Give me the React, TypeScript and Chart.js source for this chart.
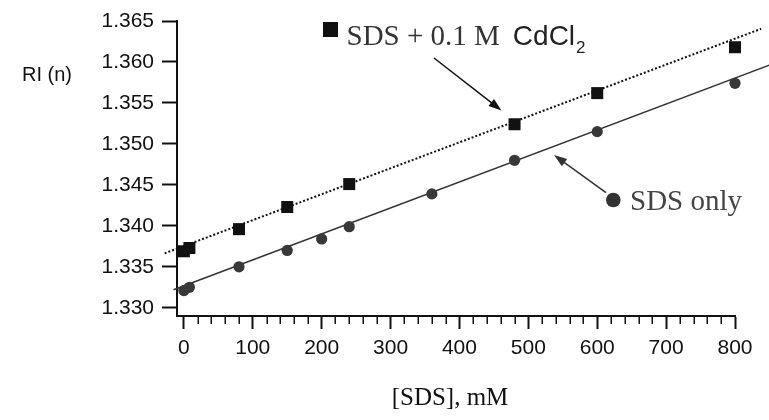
import React, { useEffect, useRef } from 'react';
import { Chart, registerables } from 'chart.js';

Chart.register(...registerables);

// SDS only (circles)
const sdsConc = [0, 8, 80, 150, 200, 240, 360, 480, 600, 800];
const sdsRI = [1.3321, 1.3325, 1.3350, 1.3370, 1.3384, 1.3399, 1.3439, 1.3480, 1.3515, 1.3574];

// SDS + 0.1 M CdCl2 (squares)
const cdConc = [0, 8, 80, 150, 240, 480, 600, 800];
const cdRI = [1.3369, 1.3373, 1.3396, 1.3423, 1.3451, 1.3524, 1.3562, 1.3618];

// linear fit lines (end points)
const sdsFitX = [-15, 850];
const sdsFitY = [1.33221, 1.35962];
const cdFitX = [-28, 838];
const cdFitY = [1.33665, 1.36405];

const xTickValues = [0, 100, 200, 300, 400, 500, 600, 700, 800];
const xMinorValues = [20, 40, 60, 80, 120, 140, 160, 180, 220, 240, 260, 280, 320, 340, 360, 380, 420, 440, 460, 480, 520, 540, 560, 580, 620, 640, 660, 680, 720, 740, 760, 780];
const yTickValues = [1.330, 1.335, 1.340, 1.345, 1.350, 1.355, 1.360, 1.365];

const SANS = "'Liberation Sans', Arial, sans-serif";
const SERIF = "'Liberation Serif', 'Times New Roman', serif";

function drawArrow(ctx: CanvasRenderingContext2D, x1: number, y1: number, x2: number, y2: number, color: string) {
  const ang = Math.atan2(y2 - y1, x2 - x1);
  const len = 13;
  const hw = 4.5;
  ctx.save();
  ctx.strokeStyle = color;
  ctx.fillStyle = color;
  ctx.lineWidth = 1.5;
  ctx.beginPath();
  ctx.moveTo(x1, y1);
  ctx.lineTo(x2 - Math.cos(ang) * len * 0.8, y2 - Math.sin(ang) * len * 0.8);
  ctx.stroke();
  ctx.beginPath();
  ctx.moveTo(x2, y2);
  ctx.lineTo(x2 - Math.cos(ang) * len - Math.sin(ang) * hw, y2 - Math.sin(ang) * len + Math.cos(ang) * hw);
  ctx.lineTo(x2 - Math.cos(ang) * len + Math.sin(ang) * hw, y2 - Math.sin(ang) * len - Math.cos(ang) * hw);
  ctx.closePath();
  ctx.fill();
  ctx.restore();
}

export default function App() {
  const ref = useRef<HTMLCanvasElement>(null);

  useEffect(() => {
    const canvas = ref.current;
    if (!canvas) return;

    const annot = {
      id: 'annot',
      afterDraw(chart: any) {
        const ctx: CanvasRenderingContext2D = chart.ctx;
        const xs = chart.scales.x;
        ctx.save();
        // minor x ticks
        ctx.strokeStyle = '#111';
        ctx.lineWidth = 1.5;
        for (const v of xMinorValues) {
          const px = Math.round(xs.getPixelForValue(v)) + 0.25;
          ctx.beginPath();
          ctx.moveTo(px, xs.top + 1);
          ctx.lineTo(px, xs.top + 8);
          ctx.stroke();
        }

        // y axis title
        ctx.fillStyle = '#111';
        ctx.font = `20px ${SANS}`;
        ctx.textAlign = 'left';
        ctx.textBaseline = 'middle';
        ctx.fillText('RI (n)', 22, 75);

        // x axis title
        ctx.font = `25px ${SERIF}`;
        ctx.textAlign = 'center';
        ctx.textBaseline = 'alphabetic';
        ctx.fillText('[SDS], mM', 450, 405);

        // label: SDS + 0.1 M CdCl2
        ctx.fillStyle = '#111';
        ctx.fillRect(323, 22, 15, 15);
        ctx.textAlign = 'left';
        ctx.fillStyle = '#333';
        ctx.font = `29px ${SERIF}`;
        const t1 = 'SDS + 0.1 M';
        ctx.fillText(t1, 346.5, 45);
        const w1 = ctx.measureText(t1).width;
        ctx.fillStyle = '#222';
        ctx.font = `28px ${SANS}`;
        const cx = 346.5 + w1 + 13;
        ctx.fillText('CdCl', cx, 45);
        const w2 = ctx.measureText('CdCl').width;
        ctx.font = `17px ${SANS}`;
        ctx.fillText('2', cx + w2 + 1, 53);

        drawArrow(ctx, 434, 58, 501.5, 110.5, '#111');

        // label: SDS only
        ctx.fillStyle = '#333';
        ctx.beginPath();
        ctx.arc(613.3, 200, 7.3, 0, Math.PI * 2);
        ctx.fill();
        ctx.fillStyle = '#444';
        ctx.font = `29px ${SERIF}`;
        ctx.fillText('SDS only', 630, 210);

        drawArrow(ctx, 606, 192.7, 554, 155, '#333');
        ctx.restore();
      },
    };

    const chart = new Chart(canvas, {
      type: 'scatter',
      data: {
        datasets: [
          {
            label: 'SDS + 0.1 M CdCl2',
            data: cdConc.map((x, i) => ({ x, y: cdRI[i] })),
            pointStyle: 'rect',
            pointRadius: 8.5,
            pointBackgroundColor: '#111',
            pointBorderColor: '#111',
            pointBorderWidth: 0,
            showLine: false,
            clip: false,
          } as any,
          {
            label: 'SDS only',
            data: sdsConc.map((x, i) => ({ x, y: sdsRI[i] })),
            pointStyle: 'circle',
            pointRadius: 5.6,
            pointBackgroundColor: '#383838',
            pointBorderColor: '#383838',
            pointBorderWidth: 0,
            showLine: false,
            clip: false,
          } as any,
          {
            label: 'fit CdCl2',
            data: cdFitX.map((x, i) => ({ x, y: cdFitY[i] })),
            showLine: true,
            borderColor: '#111',
            borderWidth: 2,
            borderDash: [2, 2],
            pointRadius: 0,
            clip: false,
          } as any,
          {
            label: 'fit SDS',
            data: sdsFitX.map((x, i) => ({ x, y: sdsFitY[i] })),
            showLine: true,
            borderColor: '#333',
            borderWidth: 1.6,
            pointRadius: 0,
            clip: false,
          } as any,
        ],
      },
      options: {
        responsive: false,
        animation: false,
        layout: { padding: { top: 21, right: 34, bottom: 0, left: 0 } },
        plugins: {
          legend: { display: false },
          tooltip: { enabled: false },
          title: { display: false },
        },
        scales: {
          x: {
            type: 'linear',
            position: 'bottom',
            min: -10,
            max: 800,
            afterBuildTicks: (scale: any) => {
              scale.ticks = xTickValues.map((v) => ({ value: v }));
            },
            afterFit: (scale: any) => {
              scale.height = 104;
            },
            ticks: {
              autoSkip: false,
              maxRotation: 0,
              padding: 7,
              color: '#111',
              font: { family: SANS, size: 21 },
              callback: (v: any) => String(v),
            },
            grid: {
              display: true,
              drawOnChartArea: false,
              drawTicks: true,
              tickLength: 13,
              tickWidth: 2,
              tickColor: '#111',
            },
            border: { display: true, color: '#111', width: 2 },
          },
          y: {
            type: 'linear',
            position: 'left',
            min: 1.329,
            max: 1.365,
            afterBuildTicks: (scale: any) => {
              scale.ticks = yTickValues.map((v) => ({ value: v }));
            },
            afterFit: (scale: any) => {
              scale.width = 177;
            },
            ticks: {
              autoSkip: false,
              padding: 8,
              color: '#111',
              font: { family: SANS, size: 21 },
              callback: (v: any) => Number(v).toFixed(3),
            },
            grid: {
              display: true,
              drawOnChartArea: false,
              drawTicks: true,
              tickLength: 15,
              tickWidth: 2,
              tickColor: '#111',
            },
            border: { display: true, color: '#111', width: 2 },
          },
        },
      },
      plugins: [annot],
    } as any);

    return () => chart.destroy();
  }, []);

  return (
    <div style={{ position: 'fixed', left: 0, top: 0, width: 769, height: 420, background: '#fff' }}>
      <canvas ref={ref} width={769} height={420} style={{ display: 'block', width: 769, height: 420 }} />
    </div>
  );
}
